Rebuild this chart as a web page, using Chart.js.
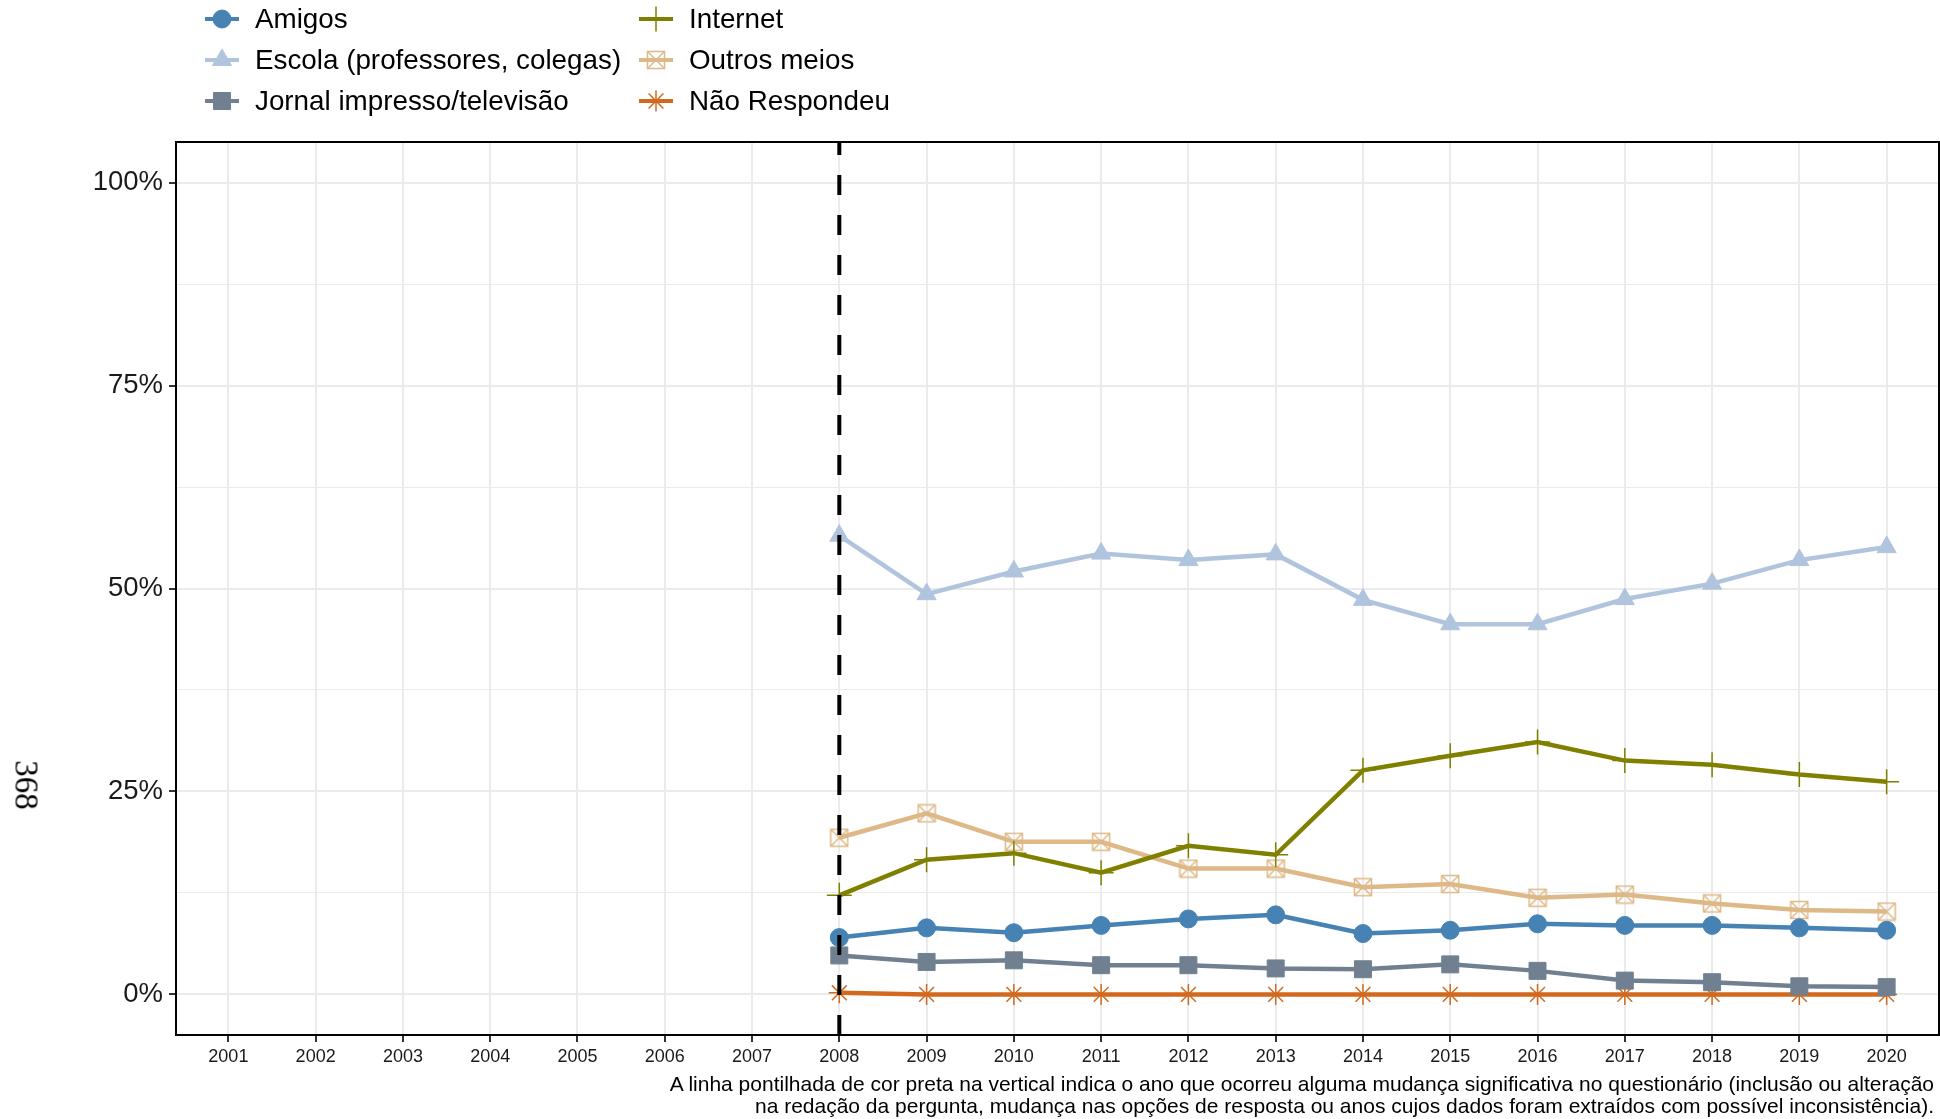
<!DOCTYPE html>
<html lang="pt">
<head>
<meta charset="utf-8">
<title>Fontes de informação</title>
<script src="https://cdn.jsdelivr.net/npm/chart.js"></script>
<style>
  body { margin: 0; background: #fff; font-family: "Liberation Sans", Arial, sans-serif; }
  #wrap { position: relative; width: 1940px; height: 1119px; overflow: hidden; }
  #chart { position: absolute; left: 0; top: 0; }
  #legend {
    position: absolute; left: 204px; top: -2px;
    display: grid; grid-template-columns: 434px auto; grid-auto-flow: column;
    grid-template-rows: 41px 41px 41px;
  }
  .key { display: flex; align-items: center; font-size: 27.8px; color: #000; white-space: nowrap; }
  .key canvas { margin-right: 15px; }
  #ytitle {
    position: absolute; left: 26px; top: 785px;
    transform: translate(-50%, -50%) rotate(90deg);
    font-family: "Liberation Serif", serif; font-size: 33px; color: #000;
  }
  #note {
    position: absolute; right: 6px; top: 1073px; text-align: right;
    font-size: 21px; line-height: 22px; color: #000; white-space: nowrap;
  }
</style>
</head>
<body>
<div id="wrap">
  <canvas id="chart" width="1940" height="1119"></canvas>
  <div id="legend"></div>
  <div id="ytitle">368</div>
  <div id="note">A linha pontilhada de cor preta na vertical indica o ano que ocorreu alguma mudança significativa no questionário (inclusão ou alteração<br>na redação da pergunta, mudança nas opções de resposta ou anos cujos dados foram extraídos com possível inconsistência).</div>
</div>
<script>
// valores (%)
const years = [2008, 2009, 2010, 2011, 2012, 2013, 2014, 2015, 2016, 2017, 2018, 2019, 2020];
const amigos = [7.0, 8.2, 7.6, 8.5, 9.3, 9.8, 7.5, 7.9, 8.7, 8.5, 8.5, 8.2, 7.9];
const escola = [56.5, 49.3, 52.1, 54.3, 53.5, 54.2, 48.6, 45.6, 45.6, 48.7, 50.6, 53.5, 55.1];
const jornal = [4.8, 4.0, 4.2, 3.6, 3.6, 3.2, 3.1, 3.7, 2.9, 1.7, 1.5, 1.0, 0.9];
const internet = [12.2, 16.6, 17.4, 15.0, 18.3, 17.2, 27.6, 29.4, 31.1, 28.8, 28.3, 27.1, 26.2];
const outros = [19.3, 22.3, 18.8, 18.8, 15.5, 15.5, 13.2, 13.6, 11.9, 12.3, 11.2, 10.4, 10.2];
const naoRespondeu = [0.2, 0.0, 0.0, 0.0, 0.0, 0.0, 0.0, 0.0, 0.0, 0.0, 0.0, 0.0, 0.0];

const xTicks = [2001, 2002, 2003, 2004, 2005, 2006, 2007, 2008, 2009, 2010,
                2011, 2012, 2013, 2014, 2015, 2016, 2017, 2018, 2019, 2020];
const yTicks = [0, 12.5, 25, 37.5, 50, 62.5, 75, 87.5, 100];
const changeYear = 2008;

// quadrado com X (shape 7 do ggplot)
function boxCross(color) {
    const c = document.createElement('canvas');
    c.width = 20; c.height = 20;
    const g = c.getContext('2d');
    g.strokeStyle = color; g.lineWidth = 1.5;
    g.strokeRect(1.5, 1.5, 17, 17);
    g.beginPath();
    g.moveTo(1.5, 1.5); g.lineTo(18.5, 18.5);
    g.moveTo(18.5, 1.5); g.lineTo(1.5, 18.5);
    g.stroke();
    return c;
}

const series = [
    { label: 'Amigos', data: amigos, color: '#4682B4', style: 'circle', radius: 9, bw: 1 },
    { label: 'Escola (professores, colegas)', data: escola, color: '#B0C4DE', style: 'triangle', radius: 11, bw: 1 },
    { label: 'Jornal impresso/televisão', data: jornal, color: '#708090', style: 'rect', radius: 12, bw: 1 },
    { label: 'Internet', data: internet, color: '#808000', style: 'cross', radius: 12.5, bw: 1.5 },
    { label: 'Outros meios', data: outros, color: '#DEB887', style: boxCross('#DEB887'), radius: 10, bw: 1.5 },
    { label: 'Não Respondeu', data: naoRespondeu, color: '#D2691E', style: 'star', radius: 10.5, bw: 1.5 }
];

const datasets = series.map(s => ({
    label: s.label,
    data: years.map((y, i) => ({ x: y, y: s.data[i] })),
    borderColor: s.color,
    backgroundColor: s.color,
    borderWidth: 4.5,
    tension: 0,
    pointStyle: s.style,
    pointRadius: s.radius,
    pointBorderWidth: s.bw,
    pointBackgroundColor: s.color,
    pointBorderColor: s.color
}));

// legenda em duas colunas
const legend = document.getElementById('legend');
series.forEach(s => {
    const item = document.createElement('div');
    item.className = 'key';
    const cv = document.createElement('canvas');
    cv.width = 36; cv.height = 40;
    const g = cv.getContext('2d');
    g.strokeStyle = s.color; g.fillStyle = s.color;
    g.lineWidth = 4;
    g.beginPath(); g.moveTo(1, 20); g.lineTo(35, 20); g.stroke();
    g.lineWidth = s.bw;
    Chart.helpers.drawPoint(g, { pointStyle: s.style, radius: s.radius, borderWidth: s.bw, rotation: 0 }, 18, 20);
    item.appendChild(cv);
    item.appendChild(document.createTextNode(s.label));
    legend.appendChild(item);
});

const panelPlugin = {
    id: 'panel',
    afterDatasetsDraw(chart) {
        const { ctx, chartArea: a, scales } = chart;
        const px = scales.x.getPixelForValue(changeYear);
        ctx.save();
        ctx.strokeStyle = '#000';
        ctx.lineWidth = 4;
        ctx.setLineDash([20, 20]);
        ctx.beginPath();
        ctx.moveTo(px, a.bottom);
        ctx.lineTo(px, a.top);
        ctx.stroke();
        ctx.setLineDash([]);
        ctx.lineWidth = 2;
        ctx.strokeRect(a.left, a.top, a.right - a.left, a.bottom - a.top);
        ctx.restore();
    }
};

new Chart(document.getElementById('chart'), {
    type: 'line',
    data: { datasets: datasets },
    options: {
        responsive: false,
        devicePixelRatio: 1,
        animation: false,
        layout: { autoPadding: false, padding: { left: 0, right: 1, top: 142, bottom: 0 } },
        plugins: { legend: { display: false }, tooltip: { enabled: false } },
        scales: {
            x: {
                type: 'linear',
                min: 2000.4,
                max: 2020.6,
                afterBuildTicks: scale => { scale.ticks = xTicks.map(v => ({ value: v })); },
                afterFit: scale => { scale.height = 84; scale.paddingLeft = 0; scale.paddingRight = 0; },
                border: { display: false },
                grid: { color: '#EBEBEB', lineWidth: 2, tickLength: 7, tickColor: '#333', tickWidth: 2 },
                ticks: {
                    autoSkip: false, maxRotation: 0, padding: 4,
                    color: '#1a1a1a',
                    font: { family: '"Liberation Sans", Arial, sans-serif', size: 18 },
                    callback: v => String(v)
                }
            },
            y: {
                min: -5,
                max: 105,
                afterBuildTicks: scale => { scale.ticks = yTicks.map(v => ({ value: v })); },
                afterFit: scale => { scale.width = 176; scale.paddingTop = 0; scale.paddingBottom = 0; },
                border: { display: false },
                grid: {
                    color: '#EBEBEB',
                    lineWidth: c => (c.tick && c.tick.value % 25 === 0) ? 2 : 1,
                    tickLength: 7,
                    tickColor: c => (c.tick && c.tick.value % 25 === 0) ? '#333' : 'rgba(0,0,0,0)',
                    tickWidth: 2
                },
                ticks: {
                    padding: 6,
                    color: '#1a1a1a',
                    font: { family: '"Liberation Sans", Arial, sans-serif', size: 27.5 },
                    callback: v => (v % 25 === 0) ? v + '%' : ''
                }
            }
        }
    },
    plugins: [panelPlugin]
});
</script>
</body>
</html>
